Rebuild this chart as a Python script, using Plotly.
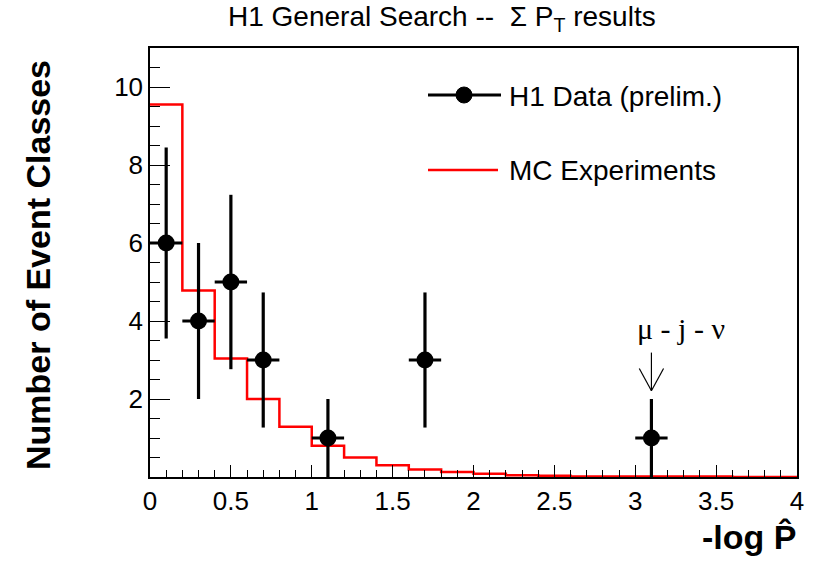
import plotly.graph_objects as go

# ---- data ----
data_x = [0.1, 0.3, 0.5, 0.7, 1.1, 1.7, 3.1]
data_y = [6, 4, 5, 3, 1, 3, 1]
data_err = [2.449, 2.0, 2.236, 1.732, 1.0, 1.732, 1.0]
data_xerr = [0.1] * 7

mc_edges = [0.0, 0.2, 0.4, 0.6, 0.8, 1.0, 1.2, 1.4, 1.6, 1.8, 2.0, 2.2, 2.4, 2.6,
            2.8, 3.0, 3.2, 3.4, 3.6, 3.8, 4.0]
mc_vals = [9.55, 4.78, 3.04, 2.0, 1.29, 0.80, 0.50, 0.30, 0.19, 0.13, 0.085, 0.045,
           0.03, 0.015, 0.012, 0.01, 0.01, 0.01, 0.0, 0.0]

x_ticks = [0, 0.5, 1, 1.5, 2, 2.5, 3, 3.5, 4]
x_ticklabels = ["0", "0.5", "1", "1.5", "2", "2.5", "3", "3.5", "4"]
y_ticks = [2, 4, 6, 8, 10]

arrow_x = 3.1
arrow_tail = 3.19
arrow_tip = 2.21
arrow_head_len = 0.57
arrow_head_hw = 0.075
arrow_label = "μ - j - ν"
arrow_label_pos = (3.28, 3.8)

W, H = 821, 569
L, R, T, B = 150, 797, 48, 477


def px(xp):
    return (xp - L) / (R - L)


def py(yp):
    return (B - yp) / (B - T)


fig = go.Figure()

hx = mc_edges
hy = mc_vals + [mc_vals[-1]]
fig.add_trace(go.Scatter(x=hx, y=hy, mode="lines", line=dict(color="#ff0000", width=2.5, shape="hv"),
                         showlegend=False, hoverinfo="skip"))

fig.add_trace(go.Scatter(
    x=data_x, y=data_y, mode="markers",
    marker=dict(color="black", size=17, symbol="circle"),
    error_y=dict(type="data", array=data_err, color="black", thickness=3.2, width=0),
    error_x=dict(type="data", array=data_xerr, color="black", thickness=3.2, width=0),
    showlegend=False))

shapes = []
# arrow
shapes.append(dict(type="line", xref="x", yref="y", x0=arrow_x, x1=arrow_x, y0=arrow_tail, y1=arrow_tip,
                   line=dict(color="black", width=1.2)))
shapes.append(dict(type="line", xref="x", yref="y", x0=arrow_x - arrow_head_hw, x1=arrow_x,
                   y0=arrow_tip + arrow_head_len, y1=arrow_tip, line=dict(color="black", width=1.2)))
shapes.append(dict(type="line", xref="x", yref="y", x0=arrow_x + arrow_head_hw, x1=arrow_x,
                   y0=arrow_tip + arrow_head_len, y1=arrow_tip, line=dict(color="black", width=1.2)))

# manual legend
shapes.append(dict(type="line", xref="paper", yref="paper", x0=px(428), x1=px(501), y0=py(95), y1=py(95),
                   line=dict(color="black", width=3.2)))
shapes.append(dict(type="circle", xref="paper", yref="paper", x0=px(456), x1=px(472), y0=py(87), y1=py(103),
                   fillcolor="black", line=dict(color="black", width=1)))
shapes.append(dict(type="line", xref="paper", yref="paper", x0=px(428), x1=px(498), y0=py(170), y1=py(170),
                   line=dict(color="#ff0000", width=2.5)))

annotations = [
    dict(text="H1 Data (prelim.)", xref="paper", yref="paper", x=px(507), y=py(96), xanchor="left",
         yanchor="middle", showarrow=False, font=dict(size=28, color="black", family="Liberation Sans")),
    dict(text="MC Experiments", xref="paper", yref="paper", x=px(507), y=py(170), xanchor="left",
         yanchor="middle", showarrow=False, font=dict(size=28, color="black", family="Liberation Sans")),
    dict(text=arrow_label, xref="x", yref="y", x=arrow_label_pos[0], y=arrow_label_pos[1],
         showarrow=False, xanchor="center", yanchor="middle",
         font=dict(size=30, color="black", family="Liberation Serif")),
    dict(text="H1 General Search --  Σ P<sub>T</sub> results", xref="paper", yref="paper",
         x=px(442), y=py(19), xanchor="center", yanchor="middle", showarrow=False,
         font=dict(size=28, color="black", family="Liberation Sans")),
    dict(text="<b>Number of Event Classes</b>", xref="paper", yref="paper", x=px(38), y=py(265),
         textangle=-90, xanchor="center", yanchor="middle", showarrow=False,
         font=dict(size=34, color="black", family="Liberation Sans")),
    dict(text="<b>-log P\u0302</b>", xref="paper", yref="paper", x=px(798), y=py(537),
         xanchor="right", yanchor="middle", showarrow=False,
         font=dict(size=34, color="black", family="Liberation Sans")),
]

fig.update_layout(
    width=W, height=H,
    margin=dict(l=L, r=W - R, t=T, b=H - B, pad=0),
    plot_bgcolor="white", paper_bgcolor="white",
    shapes=shapes, annotations=annotations,
    showlegend=False,
    font=dict(family="Liberation Sans", color="black"),
)
fig.update_xaxes(range=[0, 4], showgrid=False, zeroline=False, showline=True, linecolor="black", linewidth=1.5,
                 mirror=True, ticks="inside", ticklen=12, tickwidth=1.2, tickcolor="black",
                 tickvals=x_ticks, ticktext=x_ticklabels, tickfont=dict(size=26, family="Liberation Sans"),
                 minor=dict(ticks="inside", dtick=0.1, tick0=0, ticklen=7, tickwidth=1, tickcolor="black",
                            showgrid=False))
fig.update_yaxes(range=[0, 11], showgrid=False, zeroline=False, showline=True, linecolor="black", linewidth=1.5,
                 mirror=True, ticks="inside", ticklen=20, tickwidth=1.2, tickcolor="black",
                 tickvals=y_ticks, tickfont=dict(size=26, family="Liberation Sans"),
                 minor=dict(ticks="inside", dtick=0.5, tick0=0, ticklen=10, tickwidth=1, tickcolor="black",
                            showgrid=False))

fig.write_html("out.html")
